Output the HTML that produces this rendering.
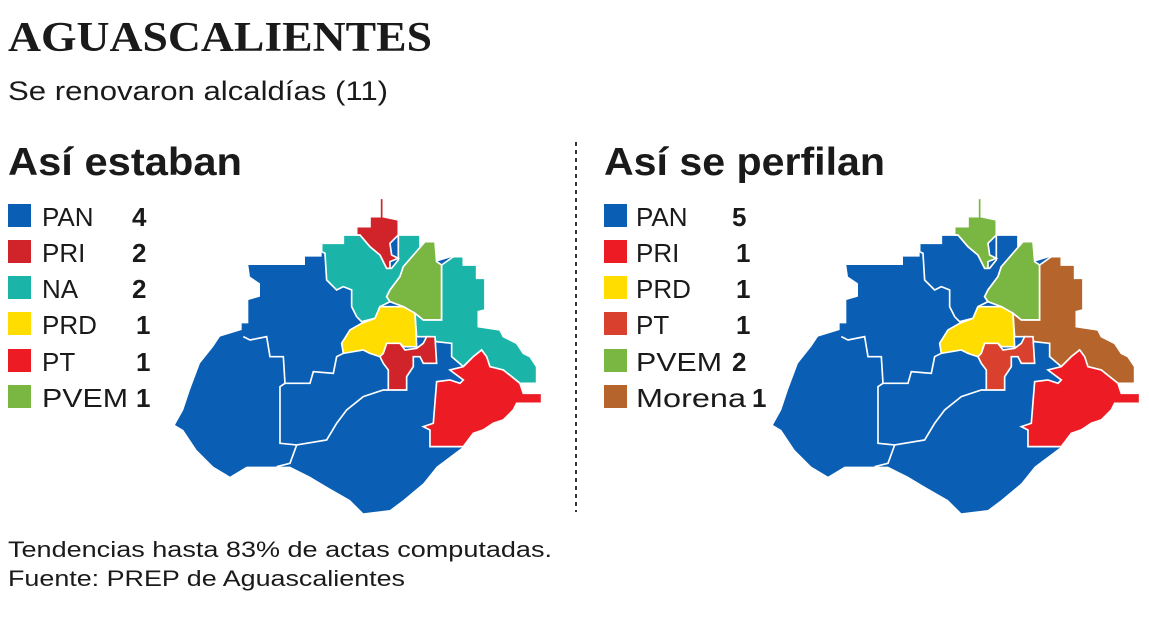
<!DOCTYPE html>
<html><head><meta charset="utf-8"><style>
html,body{margin:0;padding:0;background:#fff;width:1149px;height:620px;overflow:hidden;}
svg{display:block;}
text{font-family:"Liberation Sans",sans-serif;fill:#1a1a1a;}
</style></head><body>
<svg width="1149" height="620" viewBox="0 0 1149 620" xmlns="http://www.w3.org/2000/svg">
<defs>
<g id="outline">
<polygon points="235,225 405,225 405,200 455,200 455,160 520,160 520,135 560,135 560,110 600,110 600,80 630,80 630,25 640,25 640,80 685,90 685,135 750,135 750,190 765,155 795,155 800,215 850,200 880,200 880,225 920,225 920,265 945,265 945,360 925,365 925,410 990,420 1000,440 1040,460 1060,490 1080,500 1100,530 1100,580 1050,580 1060,610 1115,610 1115,640 1040,640 1030,660 1000,690 970,700 940,720 910,730 880,770 840,800 800,830 760,880 700,930 660,960 580,970 540,930 470,890 420,860 360,830 320,830 230,830 180,860 130,830 80,780 40,720 15,705 40,660 60,600 90,520 130,470 150,440 215,420 215,400 235,400 235,330 270,320 270,280 240,260"/>
</g>
</defs>

<text x="8" y="51" style="font-family:'Liberation Serif',serif;font-weight:bold;font-size:42px" textLength="424" lengthAdjust="spacingAndGlyphs">AGUASCALIENTES</text>
<text x="8" y="100" style="font-size:27px" textLength="380" lengthAdjust="spacingAndGlyphs" fill="#333">Se renovaron alcaldías (11)</text>

<text x="8" y="175" style="font-size:39px;font-weight:bold" textLength="234" lengthAdjust="spacingAndGlyphs">Así estaban</text>
<text x="604" y="175" style="font-size:39px;font-weight:bold" textLength="281" lengthAdjust="spacingAndGlyphs">Así se perfilan</text>

<line x1="576" y1="142" x2="576" y2="512" stroke="#333" stroke-width="2" stroke-dasharray="4,4"/>

<g style="font-size:26px">
<rect x="8" y="204" width="23" height="23" fill="#0a5fb4"/><text x="42" y="226">PAN</text><text x="132" y="226" font-weight="bold">4</text>
<rect x="8" y="240" width="23" height="23" fill="#d1232a"/><text x="42" y="262">PRI</text><text x="132" y="262" font-weight="bold">2</text>
<rect x="8" y="276" width="23" height="23" fill="#1ab4a8"/><text x="42" y="298">NA</text><text x="132" y="298" font-weight="bold">2</text>
<rect x="8" y="312" width="23" height="23" fill="#ffdd00"/><text x="42" y="334">PRD</text><text x="136" y="334" font-weight="bold">1</text>
<rect x="8" y="349" width="23" height="23" fill="#ed1c24"/><text x="42" y="371">PT</text><text x="136" y="371" font-weight="bold">1</text>
<rect x="8" y="385" width="23" height="23" fill="#7ab642"/><text x="42" y="407" textLength="86" lengthAdjust="spacingAndGlyphs">PVEM</text><text x="136" y="407" font-weight="bold">1</text>
</g>
<g style="font-size:26px">
<rect x="604" y="204" width="23" height="23" fill="#0a5fb4"/><text x="636" y="226">PAN</text><text x="732" y="226" font-weight="bold">5</text>
<rect x="604" y="240" width="23" height="23" fill="#ed1c24"/><text x="636" y="262">PRI</text><text x="736" y="262" font-weight="bold">1</text>
<rect x="604" y="276" width="23" height="23" fill="#ffdd00"/><text x="636" y="298">PRD</text><text x="736" y="298" font-weight="bold">1</text>
<rect x="604" y="312" width="23" height="23" fill="#d9412e"/><text x="636" y="334">PT</text><text x="736" y="334" font-weight="bold">1</text>
<rect x="604" y="349" width="23" height="23" fill="#7ab642"/><text x="636" y="371" textLength="86" lengthAdjust="spacingAndGlyphs">PVEM</text><text x="732" y="371" font-weight="bold">2</text>
<rect x="604" y="385" width="23" height="23" fill="#b5652b"/><text x="636" y="407" textLength="110" lengthAdjust="spacingAndGlyphs">Morena</text><text x="752" y="407" font-weight="bold">1</text>
</g>

<text x="8" y="557" style="font-size:22px" textLength="544" lengthAdjust="spacingAndGlyphs" fill="#333">Tendencias hasta 83% de actas computadas.</text>
<text x="8" y="586" style="font-size:22px" textLength="397" lengthAdjust="spacingAndGlyphs" fill="#333">Fuente: PREP de Aguascalientes</text>

<g transform="translate(170,190) scale(0.3333)" stroke="#fff" stroke-width="5" stroke-linejoin="miter">
<use href="#outline" fill="#0a5fb4" stroke="none"/>
<polyline fill="none" points="220,440 240,450 290,440 300,500 340,500 345,580 420,580 430,545 490,550 500,500 520,490"/>
<polyline fill="none" points="345,580 330,590 330,760 380,765 360,820 320,830"/>
<polyline fill="none" points="380,765 470,750 500,700 530,660 580,620 640,600 655,600"/>
<polygon fill="#1ab4a8" points="455,160 520,160 520,135 560,135 570,135 600,170 630,195 650,235 665,235 685,210 685,135 750,135 750,190 700,230 690,260 660,300 650,320 660,335 630,350 615,385 575,395 560,380 545,350 545,300 520,290 500,300 470,270 465,190 455,185"/>
<polygon fill="#d1232a" points="560,110 600,110 600,80 630,80 630,25 640,25 640,80 685,90 685,135 660,160 665,195 685,205 660,215 660,235 650,235 630,195 600,170 570,135 560,135"/>
<polygon fill="#7ab642" points="700,230 765,155 795,155 800,215 815,225 815,390 760,390 735,370 700,350 660,335 650,320 660,300 690,260"/>
<polygon fill="#1ab4a8" points="815,225 850,200 880,200 880,225 920,225 920,265 945,265 945,360 925,365 925,410 990,420 1000,440 1040,460 1060,490 1080,500 1100,530 1100,580 1050,580 1000,540 960,530 935,480 910,500 880,530 845,500 845,460 800,455 780,440 740,440 735,370 760,390 815,390"/>
<polygon fill="#ffdd00" points="540,420 575,400 615,385 630,350 700,350 735,370 740,470 700,470 690,460 650,460 640,490 630,500 600,490 580,480 520,490 515,460"/>
<polygon fill="#d1232a" points="650,460 690,460 705,480 740,475 760,460 770,440 795,440 800,520 760,520 750,500 730,500 730,530 710,560 710,600 655,600 655,540 640,520 630,500 640,490"/>
<polygon fill="#ed1c24" points="840,540 880,530 910,500 935,480 950,500 960,530 1000,540 1050,580 1060,610 1115,610 1115,640 1040,640 1030,660 1000,690 970,700 940,720 910,730 880,770 780,770 780,720 760,710 790,700 800,575 840,570 870,580 880,570"/>
</g>

<g transform="translate(768,190) scale(0.3333)" stroke="#fff" stroke-width="5" stroke-linejoin="miter">
<use href="#outline" fill="#0a5fb4" stroke="none"/>
<polyline fill="none" points="220,440 240,450 290,440 300,500 340,500 345,580 420,580 430,545 490,550 500,500 520,490"/>
<polyline fill="none" points="345,580 330,590 330,760 380,765 360,820 320,830"/>
<polyline fill="none" points="380,765 470,750 500,700 530,660 580,620 640,600 655,600"/>
<polygon fill="#0a5fb4" points="455,160 520,160 520,135 560,135 570,135 600,170 630,195 650,235 665,235 685,210 685,135 750,135 750,190 700,230 690,260 660,300 650,320 660,335 630,350 615,385 575,395 560,380 545,350 545,300 520,290 500,300 470,270 465,190 455,185"/>
<polygon fill="#7ab642" points="560,110 600,110 600,80 630,80 630,25 640,25 640,80 685,90 685,135 660,160 665,195 685,205 660,215 660,235 650,235 630,195 600,170 570,135 560,135"/>
<polygon fill="#7ab642" points="700,230 765,155 795,155 800,215 815,225 815,390 760,390 735,370 700,350 660,335 650,320 660,300 690,260"/>
<polygon fill="#b5652b" points="815,225 850,200 880,200 880,225 920,225 920,265 945,265 945,360 925,365 925,410 990,420 1000,440 1040,460 1060,490 1080,500 1100,530 1100,580 1050,580 1000,540 960,530 935,480 910,500 880,530 845,500 845,460 800,455 780,440 740,440 735,370 760,390 815,390"/>
<polygon fill="#ffdd00" points="540,420 575,400 615,385 630,350 700,350 735,370 740,470 700,470 690,460 650,460 640,490 630,500 600,490 580,480 520,490 515,460"/>
<polygon fill="#d9412e" points="650,460 690,460 705,480 740,475 760,460 770,440 795,440 800,520 760,520 750,500 730,500 730,530 710,560 710,600 655,600 655,540 640,520 630,500 640,490"/>
<polygon fill="#ed1c24" points="840,540 880,530 910,500 935,480 950,500 960,530 1000,540 1050,580 1060,610 1115,610 1115,640 1040,640 1030,660 1000,690 970,700 940,720 910,730 880,770 780,770 780,720 760,710 790,700 800,575 840,570 870,580 880,570"/>
</g>
</svg>
</body></html>
